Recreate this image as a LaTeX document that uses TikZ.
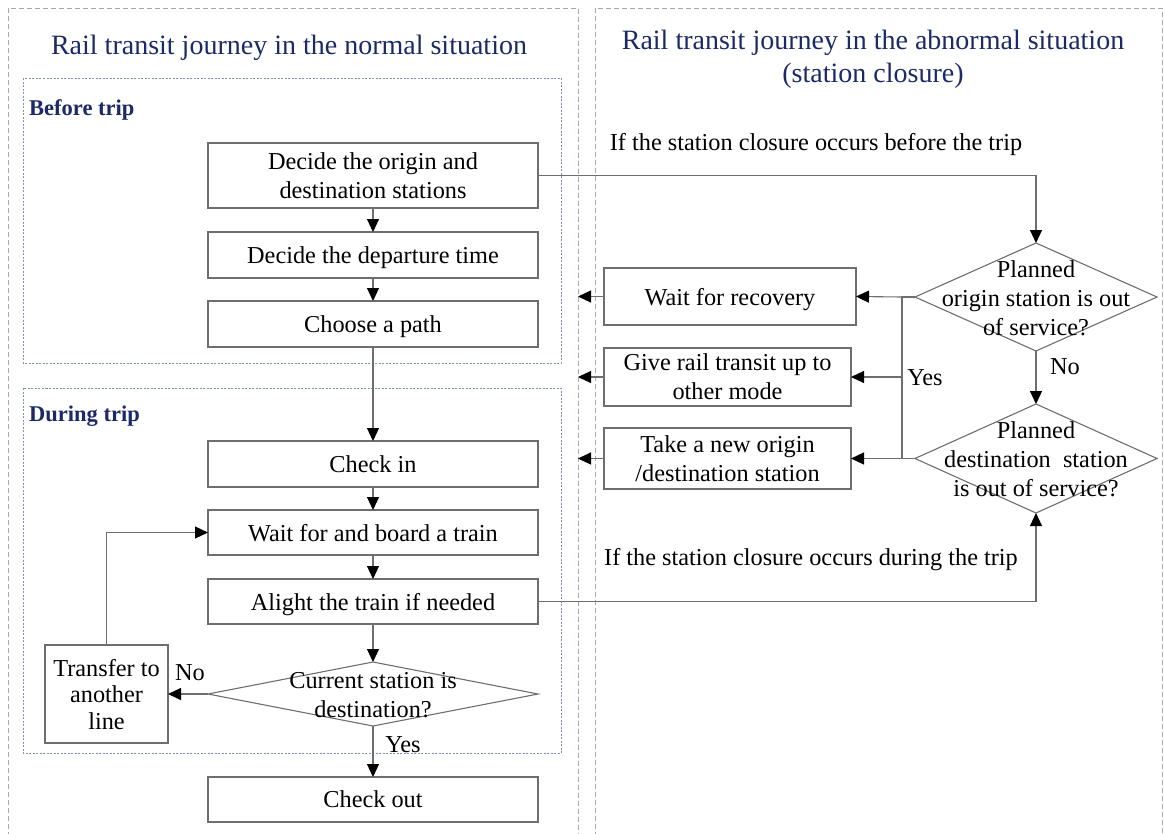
\documentclass[tikz,border=0pt]{standalone}
\usepackage{fontspec}
\setmainfont{Liberation Serif}
\usetikzlibrary{arrows.meta,shapes.geometric}
\definecolor{navy}{HTML}{1B2A66}
\definecolor{boxgray}{HTML}{6E6E6E}
\definecolor{panelgray}{HTML}{A8A8A8}
\definecolor{dotblue}{HTML}{8090B0}
\begin{document}
\begin{tikzpicture}[x=1pt,y=-1pt,
  boxtext/.style={font=\fontsize{24.3}{29}\selectfont},
  stepbox/.style={draw=boxgray,line width=1.1pt,rectangle,inner sep=0pt,outer sep=0pt,
    minimum width=330pt,minimum height=46pt,align=center,boxtext,text depth=0pt},
  decis/.style={draw=boxgray,line width=1.1pt,diamond,inner sep=0pt,outer sep=0pt},
  dectext/.style={align=center,boxtext,inner sep=0pt},
  lbl/.style={boxtext,inner sep=0pt},
  arr/.style={draw=boxgray,line width=1.1pt,-{Triangle[length=13pt,width=12pt,fill=black,color=black]}},
  ln/.style={draw=boxgray,line width=1.1pt},
  panel/.style={draw=panelgray,line width=1pt,dash pattern=on 5pt off 3pt},
  phase/.style={draw=dotblue,line width=0.9pt,dash pattern=on 2pt off 1.5pt},
  title/.style={text=navy,font=\fontsize{28}{33}\selectfont,align=center,inner sep=0pt},
  phaselbl/.style={text=navy,font=\fontsize{22.5}{27}\selectfont\bfseries,inner sep=0pt,anchor=west}
]
\useasboundingbox (0,0) rectangle (1165,833);

% panels
\draw[panel] (8,845) -- (8,8) -- (578,8) -- (578,845);
\draw[panel] (595,845) -- (595,8) -- (1162,8) -- (1162,845);
\draw[phase] (23,78) rectangle (561,363);
\draw[phase] (23,388) rectangle (561,753);

% titles
\node[title] (t1) at (289,48) {Rail transit journey in the normal situation};
\node[title] (t2) at (873,59) {Rail transit journey in the abnormal situation\\(station closure)};
\node[phaselbl] (before) at (29,110) {Before trip};
\node[phaselbl] (during) at (29,416) {During trip};

% left flow
\node[stepbox,minimum height=65pt] (dest) at (373,175.5) {Decide the origin and\\destination stations};
\node[stepbox] (dep) at (373,255) {Decide the departure time};
\node[stepbox] (path) at (373,324) {Choose a path};
\node[stepbox] (checkin) at (373,464) {Check in};
\node[stepbox,minimum height=45pt] (board) at (373,532.5) {Wait for and board a train};
\node[stepbox,minimum height=45pt] (alight) at (373,601.5) {Alight the train if needed};
\node[decis,minimum width=330pt,minimum height=64pt] (cur) at (373,694) {};
\node[dectext] (curt) at (373,695) {Current station is\\destination?};
\node[stepbox,minimum width=123pt,minimum height=98pt,font=\fontsize{24.3}{26.5}\selectfont] (transfer) at (106.5,694) {Transfer to\\another\\line};
\node[stepbox,minimum height=45pt] (checkout) at (373,799.5) {Check out};

\draw[arr] (dest) -- (dep);
\draw[arr] (dep) -- (path);
\draw[arr] (path) -- (checkin);
\draw[arr] (checkin) -- (board);
\draw[arr] (board) -- (alight);
\draw[arr] (alight) -- (cur);
\draw[arr] (cur.south) -- (checkout.north);
\draw[arr] (cur.west) -- (transfer.east);
\draw[arr] (transfer.north) |- (board.west);
\node[lbl] (yes1) at (403,745) {Yes};
\node[lbl] (no1) at (190,673) {No};

% right flow
\node[decis,minimum width=242pt,minimum height=108pt] (d1) at (1036,297) {};
\node[dectext] (d1t) at (1036,298) {Planned\\origin station is out\\of service?};
\node[decis,minimum width=242pt,minimum height=109pt] (d2) at (1036,458.5) {};
\node[dectext] (d2t) at (1036,459.5) {Planned\\destination~~station\\is out of service?};

\node[stepbox,minimum width=252pt,minimum height=57pt] (recov) at (730,296.5) {Wait for recovery};
\node[stepbox,minimum width=247pt,minimum height=58pt] (give) at (727.5,377) {Give rail transit up to\\other mode};
\node[stepbox,minimum width=247pt,minimum height=61pt] (take) at (727.5,458.5) {Take a new origin\\/destination station};

\node[lbl] (ifbefore) at (816,145) {If the station closure occurs before the trip};
\node[lbl] (ifduring) at (811,560) {If the station closure occurs during the trip};

\draw[arr] (dest.east) -| (d1.north);
\draw[arr] (alight.east) -| (d2.south);
\draw[arr] (d1.south) -- (d2.north);
\node[lbl] (no2) at (1065,367) {No};

\coordinate (j1) at (902,297);
\coordinate (j2) at (902,377);
\coordinate (j3) at (902,458.5);
\draw[ln] (d1.west) -- (j1) -- (j3) -- (d2.west);
\draw[arr] (j1) -- (recov.east);
\draw[arr] (j2) -- (give.east);
\draw[arr] (j3) -- (take.east);
\node[lbl] (yes2) at (925,378) {Yes};

\coordinate (e1) at (578,296.5);
\coordinate (e2) at (578,377);
\coordinate (e3) at (578,458.5);
\draw[arr] (recov.west) -- (e1);
\draw[arr] (give.west) -- (e2);
\draw[arr] (take.west) -- (e3);
\end{tikzpicture}
\end{document}
